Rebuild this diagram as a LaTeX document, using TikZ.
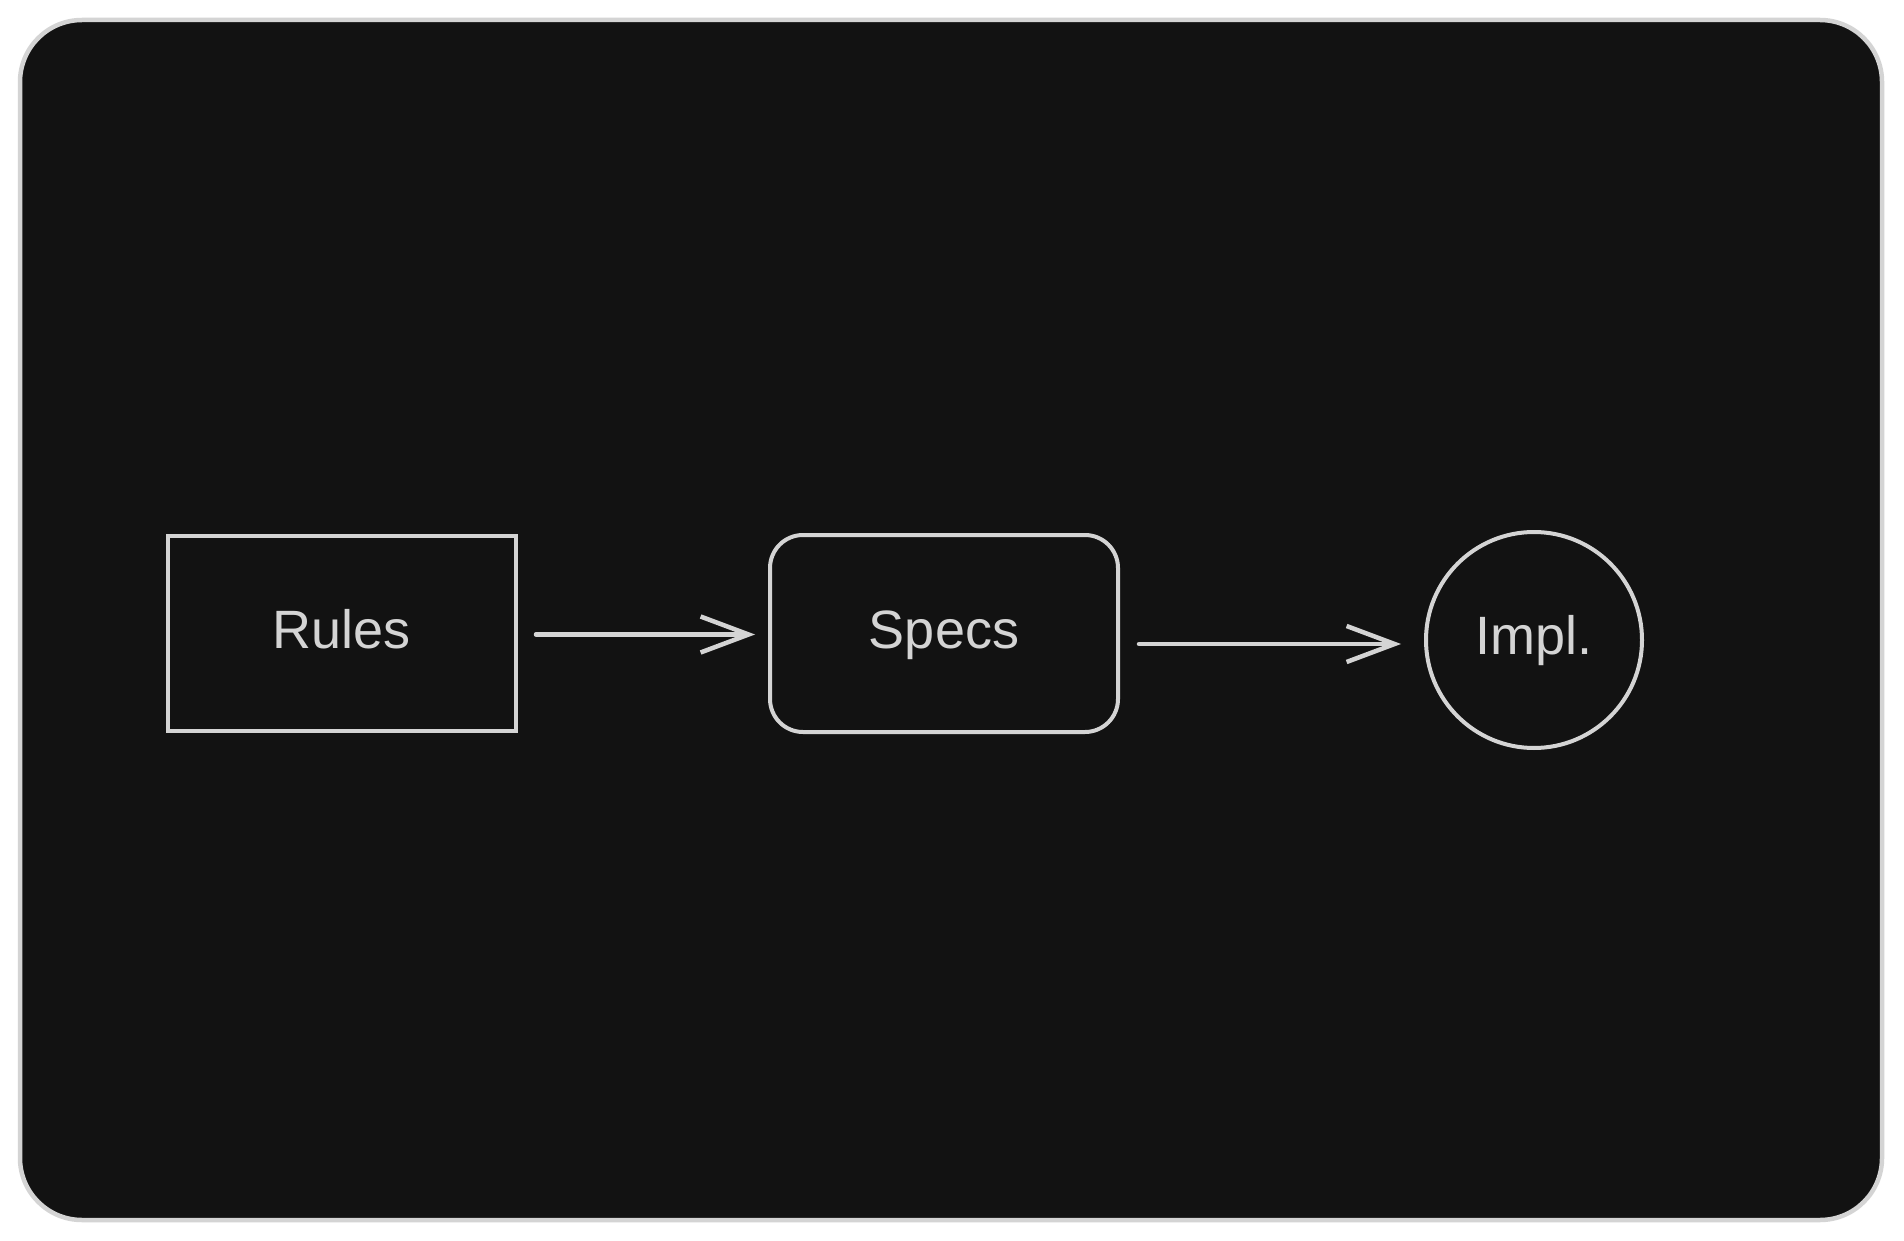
\documentclass[tikz,border=0pt]{standalone}
\usepackage{fontspec}
\setmainfont{Liberation Sans}
\usetikzlibrary{arrows.meta}
\definecolor{ink}{HTML}{D4D4D4}
\definecolor{bg}{HTML}{121212}
\begin{document}
\begin{tikzpicture}[x=1pt,y=-1pt,
  boxbase/.style={draw=ink,line width=4pt,fill=bg,text=ink,inner sep=0pt,
    text height=40pt,text depth=11pt,
    font=\fontsize{54}{60}\selectfont},
  rectbox/.style={boxbase,rectangle,minimum width=348pt,minimum height=195pt},
  roundbox/.style={boxbase,rectangle,rounded corners=33pt,minimum width=348pt,minimum height=197pt},
  circbox/.style={boxbase,circle,minimum size=216pt},
  flow/.style={draw=ink,line width=4.5pt,line cap=round,line join=round,
    -{Straight Barb[length=48pt,width=36pt,line width=4.5pt]}}]
\useasboundingbox (0,0) rectangle (1904,1241);
\fill[white] (0,0) rectangle (1904,1241);
\node[draw=ink,line width=4.5pt,fill=bg,rounded corners=62pt,minimum width=1862pt,minimum height=1200pt,inner sep=0pt] (frame) at (951,620) {};
\node[rectbox] (rules) at (342,633.5) {Rules};
\node[roundbox] (specs) at (944,633.5) {Specs};
\node[circbox] (impl) at (1534,640) {Impl.};
\draw[flow] ([xshift=18pt,yshift=-1pt]rules.east) -- ([xshift=-13pt,yshift=-1pt]specs.west);
\draw[flow] ([xshift=19pt,yshift=-10.5pt]specs.east) -- ([xshift=-23pt,yshift=-4pt]impl.west);
\end{tikzpicture}
\end{document}
